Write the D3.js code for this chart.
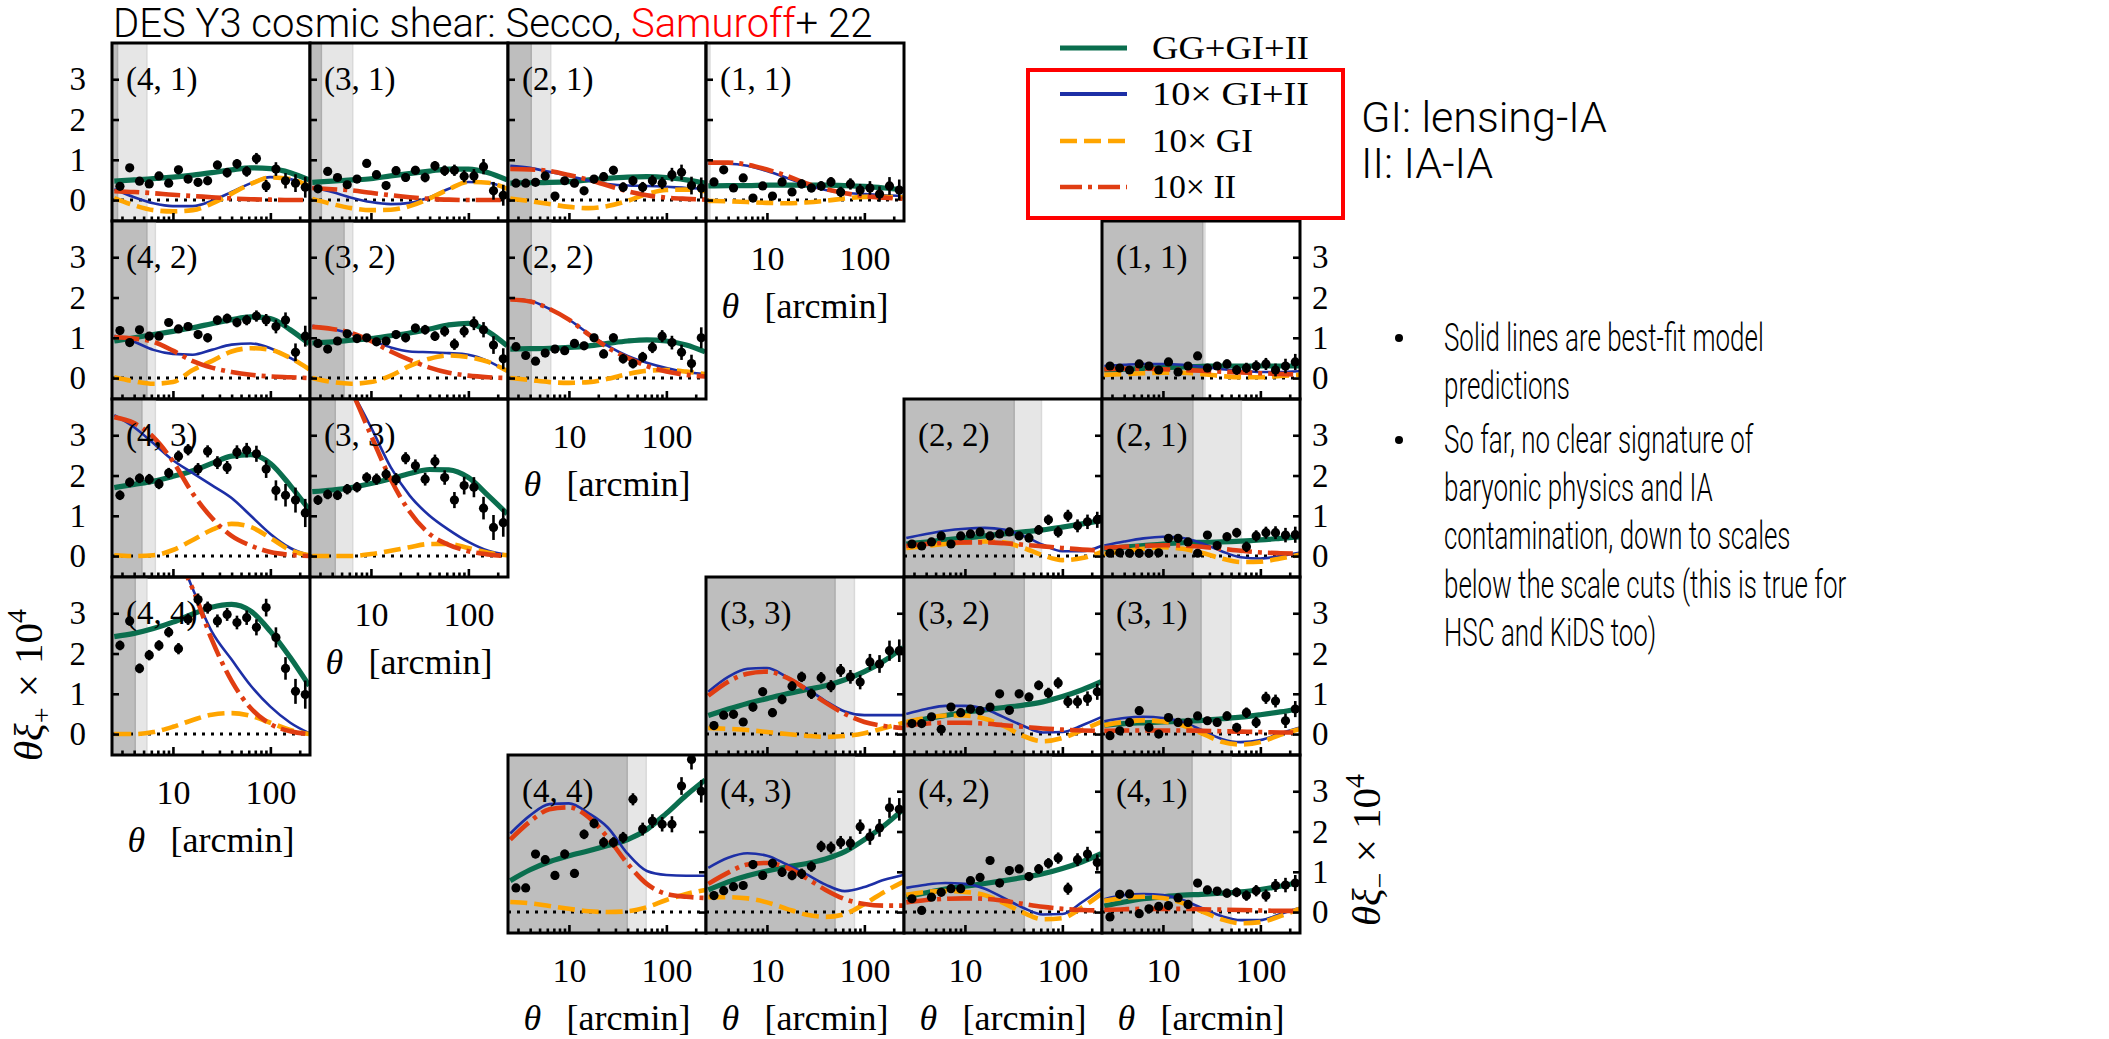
<!DOCTYPE html>
<html><head><meta charset="utf-8">
<script src="https://cdn.jsdelivr.net/npm/d3@7"></script>
<style>body{margin:0;background:#fff} svg{display:block}</style>
</head><body>
<svg id="c" width="2109" height="1039"></svg>
<script>
// ---------------- DATA ----------------
const thetaBins = [2.86,3.60,4.54,5.71,7.19,9.05,11.4,14.3,18.1,22.7,28.6,36.0,45.4,57.1,71.9,90.5,114,143,181,228];
const thetaModel = [2.5,4,6.3,10,16,25,40,63,100,160,250];
const yTickValues = [0,1,2,3];
const xMajorTicks = [10,100];
const xMinorTicks = [3,4,5,6,7,8,9,20,30,40,50,60,70,80,90,200];
const legendLabels = ["GG+GI+II","10× GI+II","10× GI","10× II"];

// xi_+ panels (redshift-bin pairs)
const xipPanels = ["(4, 1)","(3, 1)","(2, 1)","(1, 1)","(4, 2)","(3, 2)","(2, 2)","(4, 3)","(3, 3)","(4, 4)"];
const xipCutDark  = [2.7,3.1,4.1,2.45,5.4,5.3,4.1,4.8,4.3,4.1];
const xipCutLight = [5.4,6.5,6.5,2.6,6.6,6.5,6.5,6.6,6.5,5.4];
const xipPoints = [
 [0.34,0.80,0.47,0.40,0.60,0.42,0.75,0.52,0.44,0.48,0.87,0.68,0.90,0.71,1.03,0.35,0.77,0.48,0.42,0.32],
 [0.28,0.71,0.56,0.38,0.52,0.91,0.63,0.36,0.73,0.56,0.74,0.56,0.85,0.73,0.74,0.59,0.60,0.83,0.23,0.12],
 [0.42,0.42,0.44,0.60,0.10,0.48,0.42,0.23,0.52,0.58,0.74,0.32,0.48,0.32,0.48,0.42,0.63,0.69,0.36,0.30],
 [0.45,0.75,0.30,0.55,0.05,0.35,0.10,0.45,0.20,0.40,0.30,0.35,0.45,0.20,0.40,0.25,0.30,0.15,0.35,0.25],
 [1.18,0.88,1.20,1.04,1.04,1.38,1.22,1.28,1.08,1.00,1.44,1.48,1.38,1.44,1.54,1.44,1.28,1.44,0.64,1.04],
 [0.86,0.72,0.92,1.10,0.98,1.00,0.90,0.92,1.08,1.00,1.24,1.20,1.04,1.16,0.84,1.16,1.36,1.20,0.82,0.48],
 [0.78,0.56,0.42,0.62,0.72,0.68,0.86,0.80,1.00,0.60,1.00,0.48,0.36,0.52,0.76,1.04,0.88,0.64,0.36,1.00],
 [1.51,1.83,1.93,1.91,1.79,2.06,2.48,2.64,2.16,2.60,2.32,2.20,2.58,2.63,2.54,2.16,1.63,1.51,1.39,1.07],
 [1.39,1.53,1.51,1.66,1.71,1.95,1.91,2.03,1.91,2.43,2.24,1.91,2.35,1.95,1.39,1.75,1.71,1.19,0.71,0.83],
 [2.20,2.81,1.63,1.96,2.20,2.53,2.12,2.85,3.34,3.14,2.81,2.97,2.77,2.89,2.65,3.14,2.40,1.63,1.06,0.98]
];
const errLow  = [0.09,0.09,0.09,0.09,0.09,0.09,0.10,0.10,0.10,0.11,0.11,0.12,0.12,0.13,0.14,0.15,0.17,0.19,0.22,0.26];
const errHigh = [0.12,0.12,0.12,0.13,0.13,0.13,0.14,0.14,0.15,0.15,0.16,0.16,0.17,0.18,0.20,0.22,0.25,0.28,0.31,0.35];
const errMinus = [0.07,0.07,0.07,0.07,0.07,0.08,0.08,0.08,0.09,0.09,0.10,0.10,0.11,0.12,0.13,0.14,0.15,0.16,0.18,0.20];
const errMinusHigh = [0.10,0.10,0.10,0.10,0.11,0.11,0.11,0.12,0.12,0.13,0.13,0.14,0.15,0.16,0.17,0.18,0.20,0.22,0.25,0.28];
const xipErrKind = ["low","low","low","low","low","low","low","high","high","high"];

const xipGG = [
 [0.47,0.50,0.53,0.57,0.62,0.68,0.75,0.80,0.78,0.68,0.50],
 [0.44,0.47,0.50,0.53,0.60,0.66,0.72,0.77,0.77,0.68,0.50],
 [0.42,0.43,0.44,0.46,0.50,0.54,0.57,0.58,0.56,0.50,0.42],
 [0.35,0.36,0.36,0.37,0.37,0.37,0.37,0.36,0.34,0.30,0.25],
 [0.92,1.00,1.08,1.16,1.25,1.35,1.45,1.52,1.48,1.20,0.85],
 [0.87,0.90,0.94,0.98,1.05,1.12,1.22,1.32,1.36,1.15,0.80],
 [0.72,0.73,0.74,0.76,0.80,0.86,0.92,0.95,0.92,0.82,0.65],
 [1.70,1.78,1.86,1.98,2.12,2.30,2.48,2.52,2.30,1.75,1.15],
 [1.60,1.64,1.70,1.80,1.92,2.05,2.15,2.14,1.95,1.50,1.05],
 [2.42,2.50,2.62,2.78,2.98,3.15,3.22,3.05,2.55,1.90,1.20]
];
const xipGIII = [
 [0.27,0.07,-0.08,-0.15,-0.15,-0.02,0.20,0.42,0.57,0.52,0.35],
 [0.32,0.20,0.06,-0.05,-0.10,-0.07,0.07,0.28,0.45,0.43,0.28],
 [0.85,0.80,0.70,0.60,0.48,0.40,0.36,0.35,0.33,0.30,0.28],
 [0.90,0.90,0.85,0.72,0.55,0.38,0.25,0.18,0.15,0.12,0.10],
 [1.05,0.90,0.70,0.60,0.58,0.70,0.83,0.86,0.74,0.50,0.22],
 [1.30,1.22,1.10,0.94,0.76,0.66,0.64,0.62,0.58,0.42,0.16],
 [1.97,1.92,1.72,1.45,1.10,0.80,0.55,0.38,0.25,0.15,0.10],
 [3.50,3.20,2.80,2.38,2.06,1.76,1.44,1.00,0.55,0.20,0.02],
 [5.50,4.80,4.10,3.20,2.20,1.50,1.00,0.65,0.35,0.13,0.03],
 [7.00,6.00,5.40,4.80,3.60,2.55,1.85,1.20,0.68,0.28,0.02]
];
const xipGI = [
 [0.05,-0.13,-0.25,-0.28,-0.25,-0.09,0.16,0.40,0.56,0.52,0.35],
 [0.03,-0.10,-0.20,-0.25,-0.24,-0.15,0.04,0.27,0.45,0.43,0.28],
 [0.04,-0.03,-0.10,-0.17,-0.20,-0.15,-0.02,0.15,0.25,0.26,0.22],
 [-0.02,-0.03,-0.05,-0.07,-0.08,-0.06,-0.02,0.04,0.08,0.08,0.07],
 [0.02,-0.08,-0.14,-0.10,0.20,0.42,0.66,0.74,0.70,0.50,0.22],
 [0.00,-0.10,-0.14,-0.10,0.06,0.30,0.48,0.56,0.52,0.40,0.18],
 [0.00,-0.05,-0.10,-0.12,-0.10,-0.02,0.10,0.18,0.20,0.16,0.10],
 [0.02,0.00,0.02,0.15,0.40,0.65,0.80,0.72,0.45,0.15,0.02],
 [0.00,0.00,0.00,0.05,0.13,0.22,0.30,0.30,0.20,0.08,0.02],
 [0.00,0.00,0.05,0.18,0.35,0.48,0.52,0.45,0.28,0.10,0.00]
];
const xipII = [
 [0.22,0.20,0.17,0.13,0.10,0.07,0.04,0.02,0.01,0.00,0.00],
 [0.30,0.27,0.24,0.18,0.12,0.07,0.03,0.01,0.00,0.00,0.00],
 [0.77,0.76,0.72,0.62,0.50,0.36,0.22,0.12,0.06,0.03,0.01],
 [0.93,0.93,0.88,0.76,0.60,0.42,0.27,0.17,0.10,0.06,0.03],
 [1.02,0.98,0.90,0.68,0.42,0.26,0.15,0.08,0.04,0.02,0.00],
 [1.27,1.22,1.12,0.92,0.66,0.45,0.26,0.13,0.06,0.02,0.00],
 [1.95,1.90,1.72,1.45,1.08,0.76,0.50,0.30,0.16,0.08,0.04],
 [3.45,3.30,2.95,2.35,1.55,0.95,0.50,0.26,0.10,0.03,0.00],
 [5.60,4.90,4.10,3.00,1.90,1.10,0.55,0.28,0.12,0.04,0.00],
 [7.00,6.20,5.40,4.60,3.60,2.35,1.32,0.64,0.25,0.07,0.00]
];

// xi_- panels
const ximPanels = ["(1, 1)","(2, 2)","(2, 1)","(3, 3)","(3, 2)","(3, 1)","(4, 4)","(4, 3)","(4, 2)","(4, 1)"];
const ximCutDark  = [25.6,32,20.3,50,40.6,24.6,39.6,50,40.6,19.9];
const ximCutLight = [27,61,63.8,79,77,50,62,79,77,50];
const ximPoints = [
 [0.30,0.25,0.20,0.35,0.30,0.20,0.40,0.15,0.30,0.55,0.25,0.30,0.35,0.20,0.25,0.30,0.35,0.20,0.30,0.40],
 [0.30,0.25,0.35,0.50,0.30,0.50,0.55,0.60,0.50,0.55,0.60,0.50,0.45,0.65,0.90,0.60,1.00,0.75,0.85,0.90],
 [0.07,0.08,0.07,0.07,0.07,0.08,0.44,0.44,0.35,0.07,0.52,0.26,0.48,0.58,0.23,0.50,0.58,0.58,0.52,0.53],
 [0.21,0.47,0.49,0.30,0.67,1.05,0.53,0.86,1.19,1.42,1.00,1.40,1.19,1.58,1.42,1.29,1.79,1.74,2.07,2.07],
 [0.26,0.26,0.43,0.12,0.67,0.53,0.62,0.58,0.67,1.00,0.59,1.00,0.92,1.21,1.02,1.27,0.80,0.80,0.88,1.05],
 [-0.04,0.08,0.29,0.58,0.16,0.00,0.41,0.29,0.29,0.45,0.33,0.29,0.45,0.16,0.53,0.29,0.90,0.82,0.33,0.62],
 [0.60,0.60,1.44,1.30,0.91,1.44,0.96,1.93,2.20,1.73,1.73,1.85,2.80,2.06,2.26,2.18,2.18,3.13,3.79,3.00],
 [0.41,0.53,0.63,0.66,1.18,0.91,1.21,0.99,0.91,0.95,1.13,1.63,1.60,1.73,1.71,2.12,1.87,2.09,2.59,2.55],
 [0.33,0.04,0.37,0.49,0.58,0.58,0.78,0.86,1.28,0.72,1.03,1.07,0.88,1.07,1.21,1.34,0.58,1.30,1.44,1.23],
 [-0.12,0.44,0.45,-0.04,0.08,0.14,0.16,0.35,0.19,0.72,0.55,0.52,0.47,0.49,0.41,0.53,0.41,0.66,0.67,0.72]
];
const ximErrKind = ["minus","minus","minus","minusHigh","minus","minus","minusHigh","minusHigh","minus","minus"];
const ximGG = [
 [0.20,0.22,0.24,0.26,0.28,0.29,0.30,0.30,0.30,0.30,0.30],
 [0.30,0.35,0.40,0.45,0.50,0.55,0.60,0.65,0.72,0.80,0.88],
 [0.18,0.22,0.26,0.30,0.33,0.34,0.35,0.37,0.40,0.44,0.48],
 [0.46,0.62,0.76,0.88,1.00,1.10,1.20,1.35,1.55,1.82,2.15],
 [0.28,0.38,0.46,0.54,0.60,0.66,0.72,0.80,0.93,1.10,1.30],
 [0.22,0.26,0.28,0.30,0.32,0.34,0.38,0.42,0.48,0.55,0.63],
 [0.78,1.05,1.25,1.40,1.52,1.65,1.80,2.05,2.45,2.90,3.28],
 [0.55,0.75,0.90,1.02,1.12,1.20,1.32,1.50,1.80,2.15,2.55],
 [0.38,0.48,0.57,0.64,0.71,0.78,0.86,0.95,1.08,1.25,1.45],
 [0.15,0.25,0.33,0.38,0.42,0.44,0.47,0.50,0.56,0.64,0.74]
];
const ximGIII = [
 [0.30,0.33,0.35,0.35,0.33,0.28,0.22,0.18,0.15,0.15,0.17],
 [0.45,0.55,0.63,0.68,0.70,0.66,0.50,0.28,0.12,0.12,0.25],
 [0.26,0.36,0.44,0.48,0.45,0.32,0.12,-0.03,-0.06,0.00,0.08],
 [1.05,1.42,1.62,1.64,1.42,1.15,0.82,0.56,0.47,0.47,0.47],
 [0.50,0.62,0.70,0.70,0.62,0.42,0.20,0.04,0.05,0.22,0.42],
 [0.32,0.40,0.43,0.40,0.30,0.10,-0.12,-0.20,-0.15,0.02,0.16],
 [1.95,2.40,2.68,2.70,2.45,2.10,1.45,1.02,0.92,0.90,0.90],
 [1.10,1.35,1.46,1.40,1.18,0.95,0.68,0.52,0.62,0.80,0.92],
 [0.60,0.68,0.72,0.70,0.58,0.35,0.10,-0.06,-0.05,0.25,0.58],
 [0.32,0.42,0.45,0.42,0.30,0.10,-0.10,-0.20,-0.20,-0.05,0.10]
];
const ximGI = [
 [0.08,0.10,0.12,0.13,0.13,0.10,0.05,0.02,0.02,0.05,0.08],
 [0.20,0.25,0.30,0.34,0.36,0.34,0.20,0.02,-0.10,-0.05,0.10],
 [0.05,0.12,0.18,0.22,0.18,0.08,-0.06,-0.15,-0.14,-0.06,0.03],
 [0.15,0.13,0.10,0.05,0.00,-0.04,-0.07,-0.05,0.02,0.15,0.28],
 [0.30,0.40,0.46,0.46,0.38,0.20,-0.05,-0.18,-0.10,0.10,0.30],
 [0.22,0.30,0.34,0.31,0.21,0.02,-0.19,-0.26,-0.20,-0.02,0.12],
 [0.25,0.22,0.15,0.08,0.02,0.00,0.02,0.12,0.30,0.45,0.55],
 [0.37,0.37,0.34,0.24,0.08,-0.06,-0.12,-0.05,0.20,0.50,0.75],
 [0.43,0.50,0.52,0.50,0.42,0.22,-0.02,-0.18,-0.15,0.12,0.45],
 [0.28,0.35,0.38,0.35,0.22,0.02,-0.18,-0.28,-0.25,-0.10,0.08]
];
const ximII = [
 [0.22,0.23,0.23,0.22,0.20,0.18,0.16,0.14,0.12,0.10,0.09],
 [0.25,0.30,0.33,0.34,0.34,0.32,0.28,0.24,0.20,0.16,0.14],
 [0.20,0.23,0.25,0.27,0.26,0.23,0.18,0.13,0.09,0.07,0.06],
 [0.95,1.30,1.50,1.55,1.40,1.12,0.78,0.50,0.30,0.20,0.15],
 [0.22,0.26,0.28,0.28,0.26,0.22,0.18,0.14,0.11,0.09,0.08],
 [0.08,0.09,0.09,0.09,0.09,0.08,0.07,0.06,0.05,0.04,0.04],
 [1.80,2.25,2.55,2.60,2.35,1.85,1.20,0.70,0.45,0.38,0.35],
 [0.70,0.98,1.18,1.22,1.10,0.85,0.55,0.32,0.20,0.16,0.16],
 [0.24,0.30,0.33,0.34,0.33,0.28,0.20,0.13,0.08,0.05,0.04],
 [0.05,0.07,0.08,0.08,0.08,0.07,0.06,0.05,0.04,0.03,0.03]
];

// ---------------- LAYOUT / STYLE ----------------
const X0 = 112, Y0 = 43, CW = 198, CH = 178;
const xipCells = [[0,0],[0,1],[0,2],[0,3],[1,0],[1,1],[1,2],[2,0],[2,1],[3,0]]; // [row,col]
const ximCells = [[1,5],[2,4],[2,5],[3,3],[3,4],[3,5],[4,2],[4,3],[4,4],[4,5]];
const COL = {gg:"#0a6e4e", gi_ii:"#1d2fa6", gi:"#ffa500", ii:"#e03d12"};
const SERIF = "'Liberation Serif','Times New Roman',serif";
const SANS = "Roboto,'Liberation Sans',Arial,sans-serif";
const errMap = {low:errLow, high:errHigh, minus:errMinus, minusHigh:errMinusHigh};

const xs = d3.scaleLog().domain([2.37,255]).range([0,CW]);
const ys = d3.scaleLinear().domain([-0.52,3.9]).range([CH,0]);
const line = d3.line().x(d=>xs(d[0])).y(d=>ys(d[1])).curve(d3.curveMonotoneX);

const svg = d3.select("#c");
const defs = svg.append("defs");
let clipId = 0;

function drawPanel(label, cell, pts, err, gg, giii, gi, ii, cutD, cutL, side){
  const [r,c] = cell;
  const g = svg.append("g").attr("transform",`translate(${X0+c*CW},${Y0+r*CH})`);
  const id = "clip"+(clipId++);
  defs.append("clipPath").attr("id",id).append("rect").attr("width",CW).attr("height",CH);
  const inner = g.append("g").attr("clip-path",`url(#${id})`);
  inner.append("rect").attr("x",0).attr("y",0).attr("width",xs(cutD)).attr("height",CH).attr("fill","#bebebe");
  inner.append("rect").attr("x",xs(cutD)).attr("y",0).attr("width",xs(cutL)-xs(cutD)).attr("height",CH).attr("fill","#e6e6e6");
  inner.append("line").attr("x1",xs(cutD)).attr("x2",xs(cutD)).attr("y1",0).attr("y2",CH).attr("stroke","#adadad").attr("stroke-width",1.5);
  inner.append("line").attr("x1",xs(cutL)).attr("x2",xs(cutL)).attr("y1",0).attr("y2",CH).attr("stroke","#d9d9d9").attr("stroke-width",1.5);
  inner.append("rect").attr("x",xs(250)).attr("y",0).attr("width",CW-xs(250)).attr("height",CH).attr("fill","#e6e6e6");
  inner.append("line").attr("x1",0).attr("x2",CW).attr("y1",ys(0)).attr("y2",ys(0))
    .attr("stroke","#000").attr("stroke-width",3).attr("stroke-dasharray","3,6");
  const mk = arr => thetaModel.map((t,i)=>[t,arr[i]]);
  inner.append("path").attr("d",line(mk(gg))).attr("fill","none").attr("stroke",COL.gg).attr("stroke-width",5.2);
  inner.append("path").attr("d",line(mk(giii))).attr("fill","none").attr("stroke",COL.gi_ii).attr("stroke-width",2.6);
  inner.append("path").attr("d",line(mk(gi))).attr("fill","none").attr("stroke",COL.gi).attr("stroke-width",4.6).attr("stroke-dasharray","17,7");
  inner.append("path").attr("d",line(mk(ii))).attr("fill","none").attr("stroke",COL.ii).attr("stroke-width",4.6).attr("stroke-dasharray","25,6,4,6");
  const dp = inner.append("g");
  pts.forEach((v,i)=>{
    const x = xs(thetaBins[i]);
    dp.append("line").attr("x1",x).attr("x2",x).attr("y1",ys(v-err[i])).attr("y2",ys(v+err[i])).attr("stroke","#000").attr("stroke-width",2.6);
    dp.append("circle").attr("cx",x).attr("cy",ys(v)).attr("r",4.6).attr("fill","#000");
  });
  const ax = g.append("g").attr("transform",`translate(0,${CH})`);
  ax.call(d3.axisBottom(xs).tickValues(xMinorTicks).tickSize(-4.5).tickFormat(""));
  const ax2 = g.append("g").attr("transform",`translate(0,${CH})`);
  ax2.call(d3.axisBottom(xs).tickValues(xMajorTicks).tickSize(-8).tickFormat(""));
  let ay;
  if(side==="left"){
    ay = g.append("g").call(d3.axisLeft(ys).tickValues(yTickValues).tickSize(-7).tickFormat(""));
  } else {
    ay = g.append("g").attr("transform",`translate(${CW},0)`).call(d3.axisRight(ys).tickValues(yTickValues).tickSize(-7).tickFormat(""));
  }
  [ax,ax2,ay].forEach(a=>{a.select(".domain").remove(); a.selectAll(".tick line").attr("stroke","#000").attr("stroke-width",2.6);});
  g.append("rect").attr("width",CW).attr("height",CH).attr("fill","none").attr("stroke","#000").attr("stroke-width",3);
  g.append("text").attr("x",14).attr("y",47).attr("font-family",SERIF).attr("font-size",33).text(label);
}

xipPanels.forEach((lab,i)=>drawPanel(lab,xipCells[i],xipPoints[i],errMap[xipErrKind[i]],xipGG[i],xipGIII[i],xipGI[i],xipII[i],xipCutDark[i],xipCutLight[i],"left"));
ximPanels.forEach((lab,i)=>drawPanel(lab,ximCells[i],ximPoints[i],errMap[ximErrKind[i]],ximGG[i],ximGIII[i],ximGI[i],ximII[i],ximCutDark[i],ximCutLight[i],"right"));

// y tick labels
for(let r=0;r<4;r++){
  const g = svg.append("g").attr("transform",`translate(${X0-26},${Y0+r*CH})`);
  g.call(d3.axisLeft(ys).tickValues(yTickValues).tickSize(0).tickPadding(0).tickFormat(d3.format("d")));
  g.select(".domain").remove();
  g.selectAll("text").attr("font-family",SERIF).attr("font-size",33).attr("fill","#000");
}
for(let r=1;r<5;r++){
  const g = svg.append("g").attr("transform",`translate(${X0+6*CW+12},${Y0+r*CH})`);
  g.call(d3.axisRight(ys).tickValues(yTickValues).tickSize(0).tickPadding(0).tickFormat(d3.format("d")));
  g.select(".domain").remove();
  g.selectAll("text").attr("font-family",SERIF).attr("font-size",33).attr("fill","#000");
}
// x tick labels & axis titles beneath the lowest panel of each column
const bottomCells = [[0,3],[1,2],[2,1],[3,0],[2,4],[3,4],[4,4],[5,4]]; // [col,row]
bottomCells.forEach(([c,r])=>{
  const top = Y0+(r+1)*CH;
  const g = svg.append("g").attr("transform",`translate(${X0+c*CW},${top})`);
  g.call(d3.axisBottom(xs).tickValues(xMajorTicks).tickSize(0).tickPadding(25).tickFormat(d3.format("d")));
  g.select(".domain").remove();
  g.selectAll("text").attr("font-family",SERIF).attr("font-size",34).attr("fill","#000");
  const t = svg.append("text").attr("x",X0+c*CW+CW/2).attr("y",top+97).attr("text-anchor","middle")
    .attr("font-family",SERIF).attr("font-size",36);
  t.append("tspan").attr("font-style","italic").text("θ");
  t.append("tspan").text("\u2002\u2009[arcmin]");
});

// y axis titles
function yTitle(x,y,sign){
  const t = svg.append("text").attr("transform",`translate(${x},${y}) rotate(-90)`).attr("text-anchor","middle")
    .attr("font-family",SERIF).attr("font-size",41);
  t.append("tspan").attr("font-style","italic").text("θξ");
  t.append("tspan").attr("font-size",28).attr("dy",9).text(sign);
  t.append("tspan").attr("dy",-9).text(" × 10");
  t.append("tspan").attr("font-size",28).attr("dy",-16).text("4");
}
yTitle(42,685,"+");
yTitle(1380,850,"−");

// Legend
const legY = [48,94,141,187];
const legWidths = [157,157,101,84];
const legStyles = [
  {c:COL.gg,w:5,d:null},{c:COL.gi_ii,w:4,d:null},{c:COL.gi,w:4.5,d:"17,7"},{c:COL.ii,w:4.5,d:"22,6,4,6"}
];
svg.append("rect").attr("x",1028).attr("y",70).attr("width",315).attr("height",148).attr("fill","none").attr("stroke","#ff0000").attr("stroke-width",4);
legendLabels.forEach((lab,i)=>{
  const s = legStyles[i];
  const l = svg.append("line").attr("x1",1060).attr("x2",1127).attr("y1",legY[i]).attr("y2",legY[i]).attr("stroke",s.c).attr("stroke-width",s.w);
  if(s.d) l.attr("stroke-dasharray",s.d);
  svg.append("text").attr("x",1152).attr("y",legY[i]+11).attr("font-family",SERIF).attr("font-size",33)
    .attr("textLength",legWidths[i]).attr("lengthAdjust","spacingAndGlyphs").text(lab);
});

// Title
const title = svg.append("text").attr("x",113).attr("y",37).attr("font-family",SANS).attr("font-weight",300).attr("font-size",40);
title.append("tspan").text("DES Y3 cosmic shear: Secco, ");
title.append("tspan").attr("fill","#ff0000").text("Samuroff");
title.append("tspan").text("+ 22");

// Side notes
const notes = [["GI: lensing-IA",1361,132],["II: IA-IA",1361,178]];
notes.forEach(([t,x,y])=>svg.append("text").attr("x",x).attr("y",y).attr("font-family",SANS).attr("font-weight",300).attr("font-size",43).text(t));
const bulletLines = [
  ["Solid lines are best-fit model",351,true],["predictions",399,false],
  ["So far, no clear signature of",453,true],["baryonic physics and IA",501,false],
  ["contamination, down to scales",549,false],["below the scale cuts (this is true for",598,false],
  ["HSC and KiDS too)",646,false]
];
bulletLines.forEach(([t,y,b])=>{
  const tx = svg.append("text").attr("x",1444).attr("y",y).attr("font-family",SANS).attr("font-weight",300).attr("font-size",39).text(t);
  const w = tx.node().getComputedTextLength();
  tx.attr("textLength",w*0.665).attr("lengthAdjust","spacingAndGlyphs");
  if(b) svg.append("circle").attr("cx",1399).attr("cy",y-13).attr("r",4).attr("fill","#000");
});
</script>
</body></html>
